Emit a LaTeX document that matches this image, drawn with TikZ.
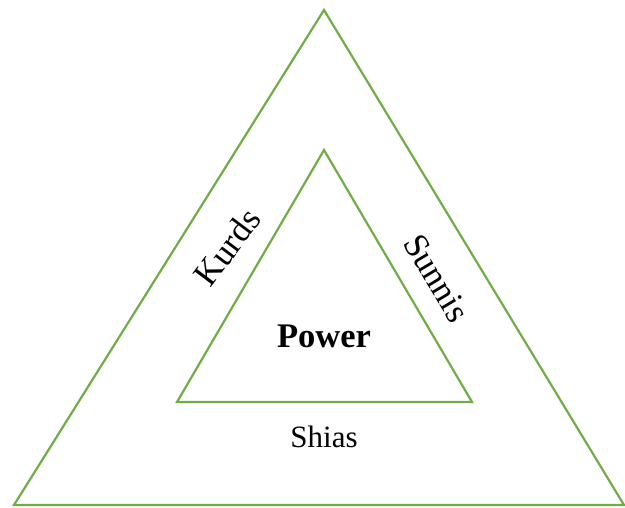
\documentclass[tikz,border=0pt]{standalone}
\usepackage{fontspec}
\setmainfont{Liberation Serif}
\usetikzlibrary{positioning}
\definecolor{trigreen}{HTML}{70AD47}

\begin{document}
\begin{tikzpicture}[x=1pt,y=-1pt,
 side/.style={draw=trigreen,line width=2.2pt,line join=miter},
 lab/.style={inner sep=0pt,font=\fontsize{31}{36}\selectfont},
 slab/.style={inner sep=0pt,font=\fontsize{35}{40}\selectfont}]
\useasboundingbox (0,0) rectangle (625,507);
% outer and inner triangles
\coordinate (otop) at (324,10);
\coordinate (oleft) at (14,505);
\coordinate (oright) at (624,505);
\coordinate (itop) at (324,150);
\coordinate (ileft) at (177,402);
\coordinate (iright) at (472,402);
\draw[side] (otop) -- (oleft) -- (oright) -- cycle;
\draw[side] (itop) -- (ileft) -- (iright) -- cycle;
% labels
\node[lab,font=\fontsize{34.5}{40}\selectfont\bfseries] (power) at (324,336) {Power};
\node[lab] (shias) at (324,437) {Shias};
\node[slab,rotate=53] (kurds) at (227,247) {Kurds};
\node[slab,rotate=-59] (sunnis) at (437,278) {Sunnis};
\end{tikzpicture}
\end{document}
